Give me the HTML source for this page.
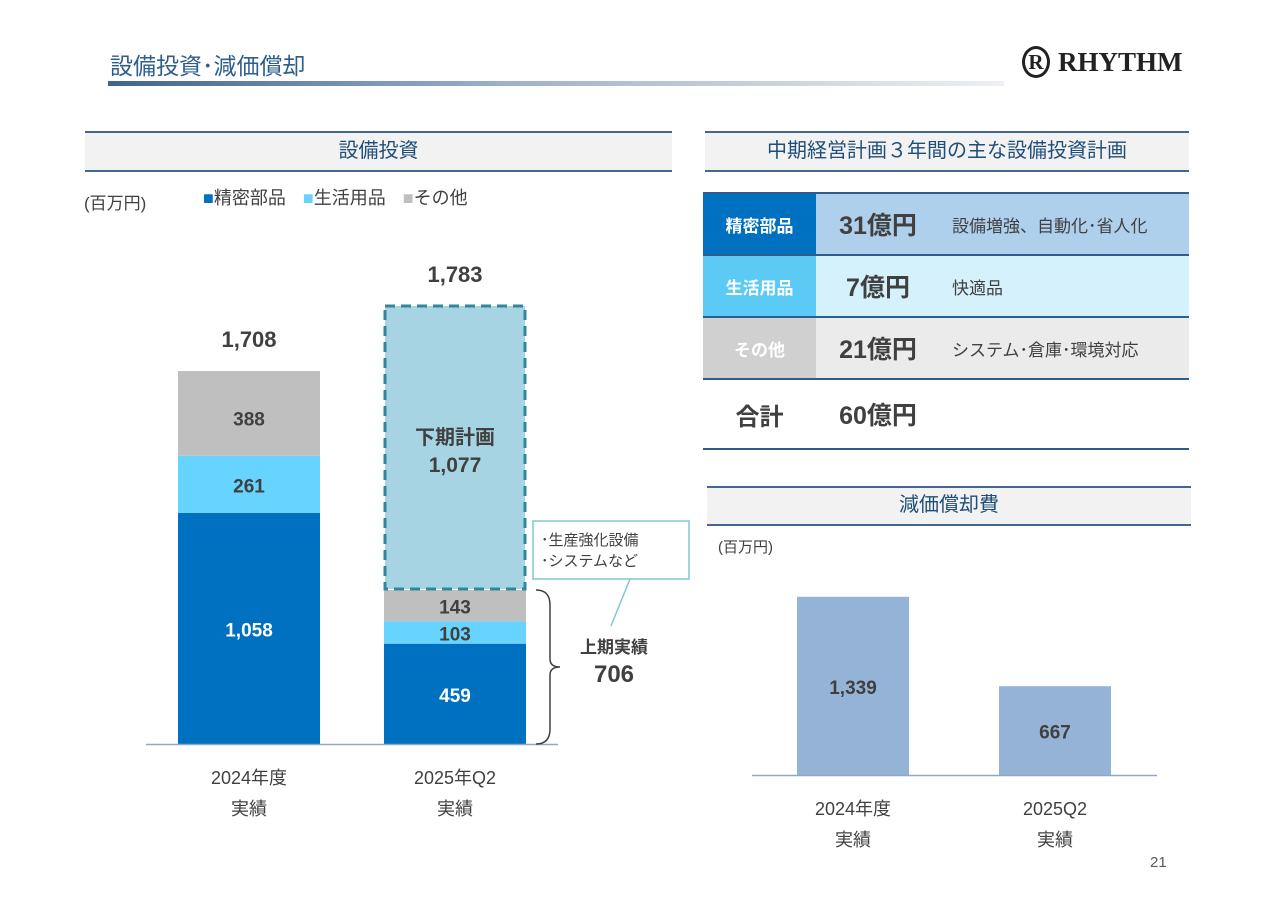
<!DOCTYPE html>
<html><head><meta charset="utf-8"><style>
body{margin:0;width:1280px;height:904px;background:#fff;position:relative;overflow:hidden;font-family:"Liberation Sans","Noto Sans CJK JP",sans-serif;color:#404040}
.abs{position:absolute}
.hdr{position:absolute;background:#f2f2f2;border-top:2px solid #44668f;border-bottom:2px solid #44668f;text-align:center;font-size:20px;color:#1f4e79;box-sizing:border-box}
.row{position:absolute;left:703px;width:486px;height:62px;border-top:2px solid #2f5d8a;box-sizing:border-box;display:flex;align-items:center}
.c1{width:113px;height:100%;display:flex;align-items:center;justify-content:center;font-weight:bold;color:#fff;font-size:17px}
.c2{width:124px;height:100%;display:flex;align-items:center;justify-content:center;font-weight:bold;font-size:25px;color:#404040}
.c3{flex:1;height:100%;display:flex;align-items:center;padding-left:12px;font-size:17px;color:#404040}
</style></head><body>
<div class="abs" style="left:110px;top:47px;font-size:23px;color:#2e5e8e">設備投資･減価償却</div>
<div class="abs" style="left:108px;top:81px;width:896px;height:5px;background:linear-gradient(90deg,#3d6491,#9fb2c9 45%,#eef0f4)"></div>
<div class="abs" style="left:1022px;top:46px;font-family:'Liberation Serif',serif;font-weight:bold;font-size:27px;color:#222;display:flex;align-items:center">
<span style="display:inline-block;width:28px;height:32px;border:3px solid #222;border-radius:50%;box-sizing:border-box;text-align:center;font-size:21px;line-height:27px;margin-right:8px">R</span>RHYTHM</div>

<div class="hdr" style="left:85px;top:131px;width:587px;height:41px;line-height:36px">設備投資</div>
<div class="hdr" style="left:705px;top:131px;width:484px;height:41px;line-height:36px">中期経営計画３年間の主な設備投資計画</div>
<div class="hdr" style="left:707px;top:486px;width:484px;height:40px;line-height:35px">減価償却費</div>

<div class="abs" style="left:84px;top:189px;font-size:17px">(百万円)</div>
<div class="abs" style="left:203px;top:184px;font-size:18px">
<span><span style="color:#0070c0">■</span>精密部品</span>
<span style="margin-left:12px"><span style="color:#66d4ff">■</span>生活用品</span>
<span style="margin-left:12px"><span style="color:#bfbfbf">■</span>その他</span></div>

<div class="row" style="top:192px"><div class="c1" style="background:#0070c0">精密部品</div><div class="c2" style="background:#aed0ec">31億円</div><div class="c3" style="background:#aed0ec">設備増強、自動化･省人化</div></div>
<div class="row" style="top:254px"><div class="c1" style="background:#5bcaf5">生活用品</div><div class="c2" style="background:#d4f1fc">7億円</div><div class="c3" style="background:#d4f1fc">快適品</div></div>
<div class="row" style="top:316px"><div class="c1" style="background:#d0d0d0">その他</div><div class="c2" style="background:#ebebeb">21億円</div><div class="c3" style="background:#ebebeb">システム･倉庫･環境対応</div></div>
<div class="row" style="top:378px;height:72px;border-bottom:2px solid #2f5d8a"><div class="c1" style="color:#404040;font-size:24px">合計</div><div class="c2">60億円</div><div class="c3"></div></div>

<div class="abs" style="left:718px;top:536px;font-size:15px">(百万円)</div>
<div class="abs" style="left:1150px;top:854px;font-size:15px;color:#595959">21</div>

<svg class="abs" style="left:0;top:0" width="1280" height="904" id="chart"></svg>
<script>
const capexCats=["2024年度","2025年Q2"];
const precision=[1058,459];
const living=[261,103];
const other=[388,143];
const totals=[1708,1783];
const planH2=[1077];
const firstHalf=[706];
const depCats=["2024年度","2025Q2"];
const depValues=[1339,667];

const NS="http://www.w3.org/2000/svg";
const svg=document.getElementById("chart");
function mk(t,a,txt){const e=document.createElementNS(NS,t);for(const k in a)e.setAttribute(k,a[k]);if(txt!==undefined)e.textContent=txt;svg.appendChild(e);return e;}
const base=744, sc=0.2185;
const y=v=>base-v*sc;
const barX=[178,384], bw=142;
const planSc=0.2637;
for(let i=0;i<2;i++){
  const x=barX[i];let acc=0;
  const segs=[[precision[i],"#0070c0","#fff"],[living[i],"#66d4ff","#404040"],[other[i],"#bfbfbf","#404040"]];
  const names=['bar-precision','bar-living','bar-other'];
  segs.forEach((s,j)=>{
    const r=mk("rect",{x:x,y:y(acc+s[0]),width:bw,height:s[0]*sc,fill:s[1]});
    
    
    const t=mk("text",{x:x+bw/2,y:y(acc+s[0]/2)+(j==2&&i==0?12:8),"text-anchor":"middle","font-size":19,"font-weight":"bold",fill:s[2]},s[0].toLocaleString());
    
    
    acc+=s[0];
  });
  let topY=y(acc);
  if(i==1){
    const h=planH2[0]*planSc;
    const p=mk("rect",{x:x+1,y:topY-h,width:bw-2,height:h-1,fill:"#a6d4e2",stroke:"#31859c","stroke-width":3,"stroke-dasharray":"10,6"});
    
    
    mk("text",{x:x+bw/2,y:topY-h/2-4,"text-anchor":"middle","font-size":20,"font-weight":"bold",fill:"#404040"},"下期計画");
    mk("text",{x:x+bw/2,y:topY-h/2+24,"text-anchor":"middle","font-size":21,"font-weight":"bold",fill:"#404040"},planH2[0].toLocaleString());
    topY=topY-h;
  }
  const tt=mk("text",{x:x+bw/2,y:topY-24,"text-anchor":"middle","font-size":22,"font-weight":"bold",fill:"#404040"},totals[i].toLocaleString());
  
  
  mk("text",{x:x+bw/2,y:784,"text-anchor":"middle","font-size":18,fill:"#404040"},capexCats[i]);
  mk("text",{x:x+bw/2,y:815,"text-anchor":"middle","font-size":18,fill:"#404040"},"実績");
}
mk("line",{x1:146,y1:base+0.5,x2:558,y2:base+0.5,stroke:"#8ea9c1","stroke-width":1.5});
const bTop=y(precision[1]+living[1]+other[1]);
mk("path",{d:`M536 ${bTop} Q550 ${bTop} 550 ${bTop+15} L550 ${(bTop+base)/2-8} Q550 ${(bTop+base)/2} 560 ${(bTop+base)/2} Q550 ${(bTop+base)/2} 550 ${(bTop+base)/2+8} L550 ${base-15} Q550 ${base} 536 ${base}`,fill:"none",stroke:"#404040","stroke-width":1.5});
mk("text",{x:614,y:653,"text-anchor":"middle","font-size":17,"font-weight":"bold",fill:"#404040"},"上期実績");
mk("text",{x:614,y:682,"text-anchor":"middle","font-size":24,"font-weight":"bold",fill:"#404040"},String(firstHalf[0]));
mk("rect",{x:533,y:521,width:156,height:58,fill:"#fff",stroke:"#7fc7d6","stroke-width":1.5});
mk("line",{x1:630,y1:579,x2:611,y2:626,stroke:"#7fc7d6","stroke-width":1.5});
mk("text",{x:541,y:545,"font-size":15,fill:"#404040"},"･生産強化設備");
mk("text",{x:541,y:566,"font-size":15,fill:"#404040"},"･システムなど");
const dBase=775, dSc=0.1331, dX=[797,999], dW=112;
depValues.forEach((v,i)=>{
  const r=mk("rect",{x:dX[i],y:dBase-v*dSc,width:dW,height:v*dSc,fill:"#95b3d7"});
  
  
  mk("text",{x:dX[i]+dW/2,y:dBase-v*dSc/2+8,"text-anchor":"middle","font-size":19,"font-weight":"bold",fill:"#404040"},v.toLocaleString());
  mk("text",{x:dX[i]+dW/2,y:815,"text-anchor":"middle","font-size":18,fill:"#404040"},depCats[i]);
  mk("text",{x:dX[i]+dW/2,y:846,"text-anchor":"middle","font-size":18,fill:"#404040"},"実績");
});
mk("line",{x1:752,y1:dBase+0.5,x2:1157,y2:dBase+0.5,stroke:"#8ea9c1","stroke-width":1.5});
</script>
</body></html>
